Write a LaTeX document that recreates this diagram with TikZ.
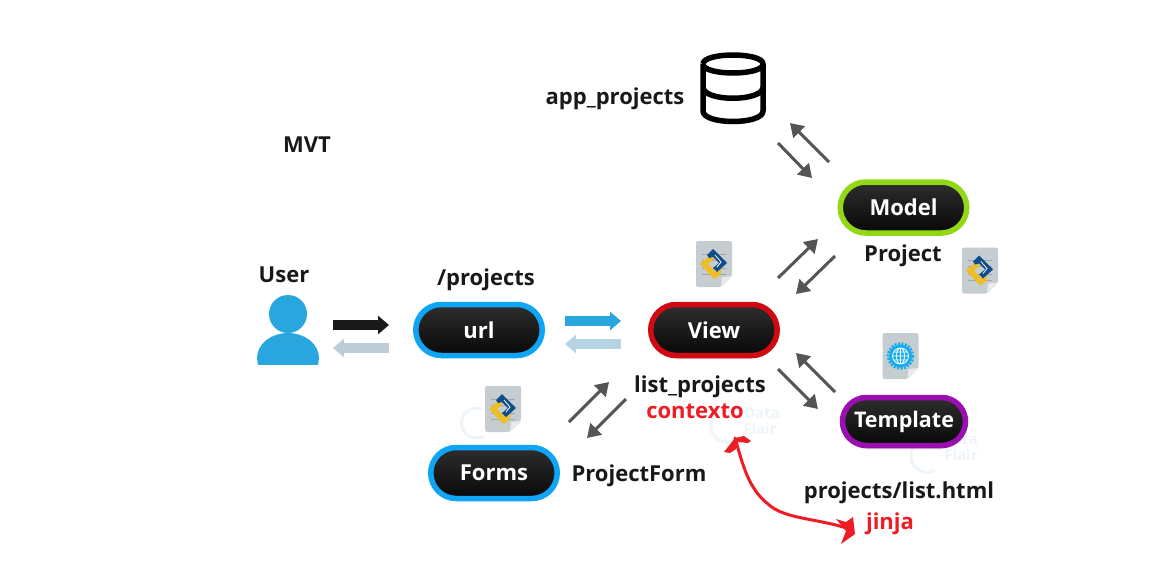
\documentclass[tikz,border=0pt]{standalone}
\usepackage{fontspec}
\setmainfont{Open Sans}
\usetikzlibrary{arrows.meta, shapes.misc, shadows}

\definecolor{urlblue}{HTML}{0FA5F5}
\definecolor{viewred}{HTML}{D00A12}
\definecolor{modelgreen}{HTML}{92D814}
\definecolor{templatepurple}{HTML}{9A0FB0}
\definecolor{arrowgray}{HTML}{555555}
\definecolor{sketchred}{HTML}{EE1C25}
\definecolor{userblue}{HTML}{2AA6DF}
\definecolor{userpale}{HTML}{BDCCD6}
\definecolor{urlpale}{HTML}{B5D3E3}
\definecolor{docgray}{HTML}{C5CDD1}
\definecolor{docfold}{HTML}{E6EAEC}
\definecolor{pyblue}{HTML}{0F4C8A}
\definecolor{pyyellow}{HTML}{EDBE2A}
\definecolor{globeblue}{HTML}{17ADEA}
\definecolor{markfaint}{HTML}{EEF5F9}

\tikzset{
  pill/.style={rounded rectangle, draw=#1, line width=5.5pt, minimum width=126.5pt,
    minimum height=51pt, inner sep=0pt, outer sep=0pt, top color=black!82, bottom color=black!97,
    text=white, font=\fontsize{22}{24}\selectfont\bfseries},
  softshadow/.style={general shadow={fill=black!22, shadow yshift=-5pt, shadow scale=0.96, opacity=0.5}},
  lbl/.style={font=\fontsize{22}{24}\selectfont\bfseries, text=black!90, inner sep=0pt},
  redlbl/.style={lbl, text=sketchred},
  marktext/.style={font=\fontsize{15}{17}\selectfont\bfseries, text=markfaint, inner sep=0pt},
  thinarrow/.style={draw=arrowgray, line width=3pt, -{Triangle[length=13pt,width=16pt]}},
  blockarrow/.style={draw=#1, line width=10pt, -{Triangle[length=11pt,width=18pt]}},
  docbase/.pic={
    \fill[docgray, rounded corners=2pt] (-18,-23) -- (18,-23) -- (18,12) -- (7,23) -- (-18,23) -- cycle;
    \fill[docfold] (18,12) -- (8,13) -- (7,23) -- cycle;
  },
  docpython/.pic={
    \pic {docbase};
    \draw[black!35, line width=0.5pt] (-12,-10) -- (12,-10) (-12,-4) -- (12,-4) (-12,4) -- (12,4) (-12,10) -- (12,10);
    \fill[pyyellow] (-14,0) -- (-4,-9) -- (0,-5) -- (-6,0) -- (2,8) -- (8,5) -- (6,11) -- (0,15) -- cycle;
    \fill[pyblue] (-7,-9) -- (-1,-15) -- (13,-1) -- (3,8) -- (-1,4) -- (5,-1) -- (-1,-7) -- (-5,-6) -- cycle;
    \draw[white, line width=0.8pt] (1,-9) -- (7,-2) -- (3,3);
  },
  docglobe/.pic={
    \pic {docbase};
    \fill[globeblue] (0,0) circle (11.5);
    \draw[globeblue, line width=2.5pt, dash pattern=on 2pt off 1.5pt] (0,0) circle (12.5);
    \draw[white, line width=0.8pt] (0,0) circle (8) (0,-8) -- (0,8) (-8,0) -- (8,0)
      (-7,-4) -- (7,-4) (-7,4) -- (7,4) (0,0) ellipse (4 and 8);
  }
}

\begin{document}
\begin{tikzpicture}[x=1pt, y=-1pt]
  \useasboundingbox[fill=white] (0,0) rectangle (1160,582);

  % watermarks
  \draw[markfaint, line width=3pt] (735,440) arc (60:290:16);
  \draw[markfaint, line width=3pt] (935,470) arc (60:290:16);
  \draw[markfaint, line width=3pt] (484,436) arc (60:290:15);
  \node[marktext] (markA) at (762,413) {Data};
  \node[marktext] (markB) at (760,429) {Flair};
  \node[marktext] (markC) at (960,439) {Data};
  \node[marktext] (markD) at (961,455) {Flair};

  % pills
  \node[pill=urlblue] (url) at (479,330) {url};
  \node[pill=viewred, softshadow] (view) at (714,330) {View};
  \node[pill=modelgreen] (model) at (903.5,207.5) {Model};
  \node[pill=templatepurple, softshadow, minimum width=123pt, minimum height=48pt, font=\fontsize{21.5}{24}\selectfont\bfseries] (template) at (904,421.5) {Template};
  \node[pill=urlblue] (forms) at (494,473) {Forms};

  % labels
  \node[lbl] (mvt) at (307,145) {MVT};
  \node[lbl] (user) at (284,275) {User};
  \node[lbl] (urlname) at (486,280) {/projects};
  \node[lbl] (dbname) at (615,99) {app\_projects};
  \node[lbl] (modelname) at (903,256) {Project};
  \node[lbl] (viewname) at (700,387) {list\_projects};
  \node[redlbl] (context) at (695,411) {contexto};
  \node[lbl] (formname) at (639,476) {ProjectForm};
  \node[lbl] (templatename) at (899,493) {projects/list.html};
  \node[redlbl] (jinja) at (890,524) {jinja};

  % user
  \fill[userblue] (288,314) circle (19);
  \begin{scope}
    \clip (250,325) rectangle (330,364);
    \fill[userblue] (288,358) ellipse (31 and 25);
  \end{scope}

  % database
  \draw[black, line width=5.5pt, line join=round]
    (703,64) -- (703,111) .. controls (703,125) and (763,125) .. (763,111) -- (763,64)
    (703,64) .. controls (703,52) and (763,52) .. (763,64) .. controls (763,76) and (703,76) .. (703,64)
    (703,87) .. controls (703,102) and (763,102) .. (763,87);

  % file icons
  \pic at (714,264) {docpython};
  \pic at (980,270.5) {docpython};
  \pic at (503,409) {docpython};
  \pic at (900.5,356) {docglobe};

  % block arrows
  \coordinate (userOutA) at (333,325);
  \coordinate (userOutB) at (389,325);
  \coordinate (userInA) at (389,348);
  \coordinate (userInB) at (333,348);
  \coordinate (urlOutA) at (565,321);
  \coordinate (urlOutB) at (621,321);
  \coordinate (urlInA) at (621,344);
  \coordinate (urlInB) at (565,344);
  \draw[blockarrow=black!90] (userOutA) -- (userOutB);
  \draw[blockarrow=userpale] (userInA) -- (userInB);
  \draw[blockarrow=userblue] (urlOutA) -- (urlOutB);
  \draw[blockarrow=urlpale] (urlInA) -- (urlInB);

  % thin arrows: database and model
  \coordinate (dbUpA) at (829,162);
  \coordinate (dbUpB) at (790,123);
  \coordinate (dbDownA) at (778,143);
  \coordinate (dbDownB) at (812,178);
  \draw[thinarrow] (dbUpA) -- (dbUpB);
  \draw[thinarrow] (dbDownA) -- (dbDownB);

  % thin arrows: view and model
  \coordinate (modelUpA) at (778,278);
  \coordinate (modelUpB) at (818,239);
  \coordinate (modelDownA) at (835,256);
  \coordinate (modelDownB) at (796,294);
  \draw[thinarrow] (modelUpA) -- (modelUpB);
  \draw[thinarrow] (modelDownA) -- (modelDownB);

  % thin arrows: view and template
  \coordinate (tplUpA) at (835,392);
  \coordinate (tplUpB) at (796,353);
  \coordinate (tplDownA) at (778,369);
  \coordinate (tplDownB) at (818,409);
  \draw[thinarrow] (tplUpA) -- (tplUpB);
  \draw[thinarrow] (tplDownA) -- (tplDownB);

  % thin arrows: view and forms
  \coordinate (formUpA) at (569,422);
  \coordinate (formUpB) at (609,382);
  \coordinate (formDownA) at (626,399);
  \coordinate (formDownB) at (587,438);
  \draw[thinarrow] (formUpA) -- (formUpB);
  \draw[thinarrow] (formDownA) -- (formDownB);

  % red sketch between contexto and jinja
  \coordinate (sketchTop) at (735,438);
  \coordinate (sketchEnd) at (852,530);
  \draw[sketchred, line width=3pt, line cap=round, line join=round]
    (sketchTop) .. controls (743,465) and (748,488) .. (768,504)
    .. controls (785,520) and (820,518) .. (sketchEnd);
  \fill[sketchred, line join=round] (sketchTop) -- (744,436) -- (751,441) -- (748,443) -- (738,442) -- (736,449) -- (730,453) -- (724,452) -- cycle;
  \fill[sketchred] (853,517) -- (855,534) -- (841,544) -- (846,531) -- (836,519) -- (846,522) -- cycle;
\end{tikzpicture}
\end{document}
